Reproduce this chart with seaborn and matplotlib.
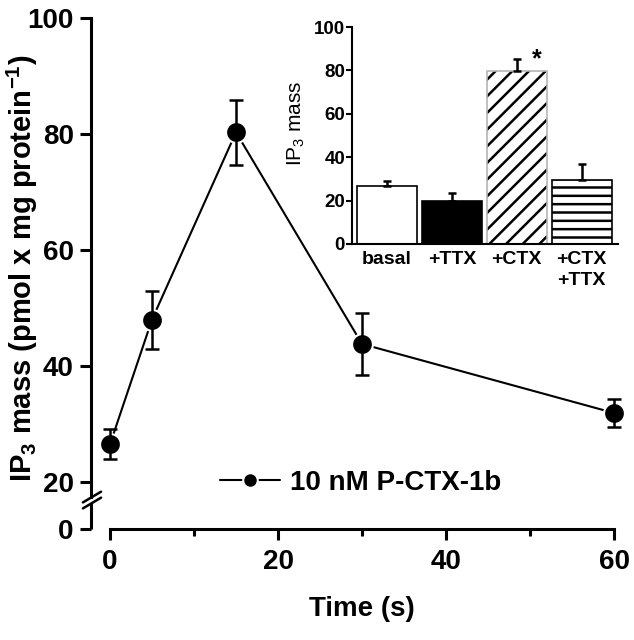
import numpy as np
import matplotlib
matplotlib.use("Agg")
import matplotlib.pyplot as plt
import seaborn as sns
import pandas as pd

# time course with 10 nM P-CTX-1b
time_s = [0, 5, 15, 30, 60]
ip3_mass = [26.5, 48.0, 80.3, 43.8, 31.9]
ip3_sem = [2.6, 5.0, 5.6, 5.4, 2.4]

# inset: treatments
conditions = ["basal", "+TTX", "+CTX", "+CTX\n+TTX"]
inset_mass = [26.7, 19.8, 79.7, 29.5]
inset_sem = [2.3, 3.7, 5.7, 7.4]
significant = [False, False, True, False]

main_yticks = [0, 20, 40, 60, 80, 100]
main_xticks = [0, 20, 40, 60]
main_xminor = [10, 30, 50]
inset_yticks = [0, 20, 40, 60, 80, 100]

BREAK_AT = 20
SQUEEZE = 0.405  # the 0-20 part of the y axis is drawn shorter


def forward(y):
    y = np.asarray(y, dtype=float)
    return np.where(y >= BREAK_AT, y, BREAK_AT - (BREAK_AT - y) * SQUEEZE)


def inverse(y):
    y = np.asarray(y, dtype=float)
    return np.where(y >= BREAK_AT, y, BREAK_AT - (BREAK_AT - y) / SQUEEZE)


sns.set_theme(style="ticks")
plt.rcParams["font.family"] = ["Liberation Sans", "DejaVu Sans"]
plt.rcParams["font.weight"] = "bold"
plt.rcParams["mathtext.default"] = "regular"
plt.rcParams["hatch.linewidth"] = 1.8
for key in ["text.color", "axes.labelcolor", "xtick.color", "ytick.color",
            "axes.edgecolor"]:
    plt.rcParams[key] = "black"

fig = plt.figure(figsize=(6.34, 6.40), dpi=100)
W, H = 634, 640

# ---- main time course ----
ax = fig.add_axes([110 / W, 111 / H, 504 / W, 511 / H])
df = pd.DataFrame({"time": time_s, "mass": ip3_mass, "sem": ip3_sem})

sns.lineplot(data=df, x="time", y="mass", ax=ax, color="black", marker="o",
             markersize=15, mec="white", mew=1.5, linewidth=1.5,
             label="10 nM P-CTX-1b", clip_on=False, zorder=3)
ax.errorbar(df["time"], df["mass"], yerr=df["sem"], fmt="none", ecolor="black",
            elinewidth=1.8, capsize=4.7, capthick=1.8, clip_on=False, zorder=4)

ax.set_yscale("function", functions=(forward, inverse))
ax.set_xlim(0, 60)
ax.set_ylim(0, 100)
ax.set_yticks(main_yticks)
ax.yaxis.set_minor_locator(matplotlib.ticker.NullLocator())
ax.set_xticks(main_xticks)
ax.set_xticks(main_xminor, minor=True)
ax.tick_params(which="major", length=8, width=2.2, labelsize=20)
ax.tick_params(which="minor", length=5, width=2.2)
ax.tick_params(axis="x", which="major", pad=6.5)
ax.tick_params(axis="y", which="major", pad=4.5)

for s in ["top", "right"]:
    ax.spines[s].set_visible(False)
for s in ["left", "bottom"]:
    ax.spines[s].set_linewidth(2.2)

spine_off_px = 19
ax.spines["left"].set_position(("outward", spine_off_px * 72 / 100))
upper_end, lower_end = 13.6, 11.06
ax.spines["left"].set_bounds(upper_end, 100)

# lower piece of the broken y axis and the break marks
to_axes = ax.transScale + ax.transLimits
x_sp = -spine_off_px / 504
ax.plot([x_sp, x_sp], [0, lower_end], transform=ax.get_yaxis_transform(),
        color="black", lw=2.2, solid_capstyle="butt", clip_on=False)
for v in [upper_end, lower_end]:
    yf = to_axes.transform((0, v))[1]
    xc = x_sp + 1 / 504
    ax.plot([xc - 0.018, xc + 0.018], [yf - 0.0105, yf + 0.0105],
            transform=ax.transAxes, color="black", lw=1.8, clip_on=False)

ax.set_xlabel("Time (s)", fontsize=20, fontweight="bold", labelpad=15)
ax.set_ylabel(r"IP$_3$ mass (pmol x mg protein$^{-1}$)", fontsize=21,
              fontweight="bold")
ax.yaxis.set_label_coords(-0.139, 0.51)

ax.legend(loc="center left", bbox_to_anchor=(0.218, 0.090), frameon=False,
          fontsize=20, handlelength=2.15, handletextpad=0.36, borderpad=0,
          borderaxespad=0, markerscale=0.7)

# ---- inset bars ----
axin = fig.add_axes([352 / W, 396 / H, 266 / W, 217 / H])
inset_df = pd.DataFrame({"condition": conditions, "mass": inset_mass})
sns.barplot(data=inset_df, x="condition", y="mass", ax=axin, color="white",
            edgecolor="black", linewidth=1.2, width=0.926, errorbar=None,
            saturation=1)

fills = ["white", "black", "white", "white"]
hatches = [None, None, "//", "--"]
edges = ["black", "black", "#b5b5b5", "black"]
for p, fc, h, ec in zip(axin.patches, fills, hatches, edges):
    p.set_facecolor(fc)
    p.set_edgecolor(ec)
    if h:
        p.set_hatch(h)
        try:
            p.set_hatchcolor("black")
        except AttributeError:
            p._hatch_color = matplotlib.colors.to_rgba("black")

xpos = np.arange(len(conditions))
axin.errorbar(xpos, inset_mass, yerr=[np.zeros(len(xpos)), inset_sem], fmt="none",
              ecolor="black", elinewidth=1.8, capsize=2.6, capthick=1.8, zorder=3)
for i, sig in enumerate(significant):
    if sig:
        axin.text(i + 0.31, inset_mass[i] + inset_sem[i] - 3.6, "*", ha="center",
                  va="baseline", fontsize=18, fontweight="bold")

axin.set_xlim(-0.54, 3.56)
axin.set_ylim(0, 100)
axin.set_yticks(inset_yticks)
axin.tick_params(axis="y", length=4, width=1.5, labelsize=13.5, pad=1)
axin.tick_params(axis="x", length=0, labelsize=14, pad=5)
for t in axin.get_xticklabels():
    t.set_linespacing(1.35)
axin.set_xlabel("")
axin.set_ylabel(r"IP$_3$ mass", fontsize=15, fontweight="normal")
axin.yaxis.set_label_coords(-0.17, 0.558)
for s in ["top", "right"]:
    axin.spines[s].set_visible(False)
for s in ["left", "bottom"]:
    axin.spines[s].set_linewidth(1.5)

fig.savefig("out.png", dpi=100)
plt.close(fig)
